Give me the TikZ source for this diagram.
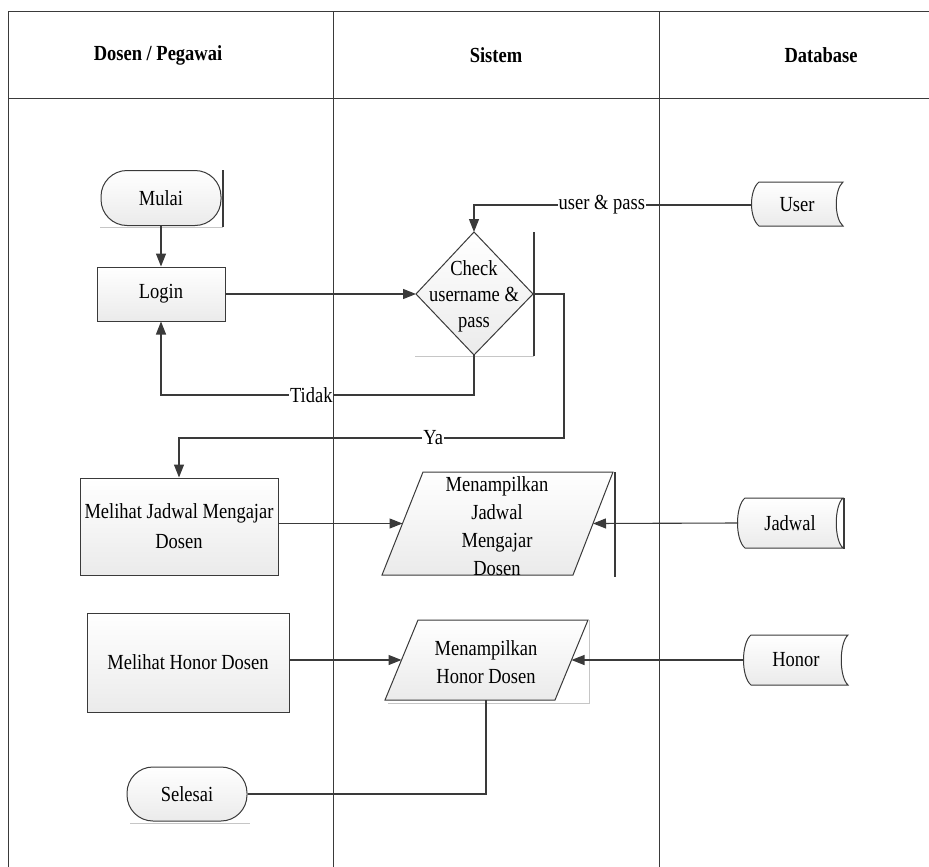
\documentclass[tikz,border=0pt]{standalone}
\usepackage{fontspec}
\setmainfont[FakeStretch=0.86]{Liberation Serif}
\usetikzlibrary{arrows.meta}
\definecolor{ln}{HTML}{3A3A3A}
\newcommand\mydbshape[4]{%
  \path[shapebox] ({#1+8},#3) -- (#2,#3)
    .. controls ({#2-9},{#3+8}) and ({#2-9},{#4-8}) .. (#2,#4)
    -- ({#1+8},#4)
    .. controls ({#1-2},{#4-8}) and ({#1-2},{#3+8}) .. ({#1+8},#3) -- cycle;}
\begin{document}
\begin{tikzpicture}[x=1pt,y=-1pt,
  font=\fontsize{21.5}{27}\selectfont,
  every node/.style={inner sep=0pt, text=black},
  fillg/.style={top color=white, bottom color=gray!16},
  box/.style={draw=ln, line width=1pt, fillg, align=center},
  proc/.style={box, rectangle},
  term/.style={box, rectangle, rounded corners=26pt},
  shapebox/.style={draw=ln, line width=1pt, fillg},
  lbl/.style={align=center},
  flow/.style={draw=ln, line width=1.1pt, -{Triangle[length=13pt,width=10pt]}},
  link/.style={draw=ln, line width=1.1pt},
  tag/.style={fill=white, inner sep=1pt},
  shadowline/.style={draw=ln, line width=1.4pt},
  lightshadow/.style={draw=gray!45, line width=1pt},
  lane/.style={draw=ln, line width=1pt},
  head/.style={font=\fontsize{21.5}{27}\selectfont\bfseries},
]
\useasboundingbox (0,0) rectangle (929,867);
\fill[white] (0,0) rectangle (929,867);

% swimlanes
\draw[lane] (8,867) -- (8,12) -- (929,12);
\draw[lane] (8,98) -- (929,98);
\draw[lane] (333,12) -- (333,867);
\draw[lane] (659,12) -- (659,867);
\node[head] (h1) at (158,55) {Dosen / Pegawai};
\node[head] (h2) at (496,55) {Sistem};
\node[head] (h3) at (821,55) {Database};

% shadows
\draw[lightshadow] (100,227) -- (223,227);
\draw[shadowline] (223,170) -- (223,227);
\draw[lightshadow] (415,356) -- (534,356);
\draw[shadowline] (534,232) -- (534,356);
\draw[shadowline] (615,472) -- (615,577);
\draw[lightshadow] (589,620) -- (589,703) -- (388,703);
\draw[lightshadow] (130,823) -- (250,823);

% left lane
\node[term, minimum width=120pt, minimum height=55pt] (mulai) at (161,198) {Mulai};
\node[proc, minimum width=128pt, minimum height=54pt] (login) at (161,294) {Login};
\node[proc, minimum width=198pt, minimum height=97pt] (mjadwal) at (179,526.5) {Melihat Jadwal Mengajar\\[3pt]Dosen};
\node[proc, minimum width=202pt, minimum height=99pt] (mhonor) at (188,662.5) {Melihat Honor Dosen};
\node[term, minimum width=120pt, minimum height=54pt] (selesai) at (187,794) {Selesai};

% decision
\coordinate (ct) at (474,232);
\coordinate (cl) at (416,294);
\coordinate (cr) at (533,294);
\coordinate (cb) at (474,355);
\path[shapebox] (ct) -- (cr) -- (cb) -- (cl) -- cycle;
\node[lbl, font=\fontsize{21.5}{26}\selectfont] (check) at (474,296) {Check\\username \&\\pass};

% display jadwal
\path[shapebox] (382,575) -- (423,472) -- (613,472) -- (573,575) -- cycle;
\coordinate (pjl) at (402.5,523.5);
\coordinate (pjr) at (593,523.5);
\node[lbl, font=\fontsize{21.5}{28}\selectfont] (pjadwal) at (497,526) {Menampilkan\\Jadwal\\Mengajar\\Dosen};

% display honor
\path[shapebox] (385,700) -- (418,620) -- (588,620) -- (555,700) -- cycle;
\coordinate (phl) at (401.5,660);
\coordinate (phr) at (571.5,660);
\coordinate (phb) at (486,700);
\node[lbl, font=\fontsize{21.5}{28}\selectfont] (phonor) at (486,662) {Menampilkan\\Honor Dosen};

% database stores
\mydbshape{751}{843}{182}{226}
\node (user) at (797,205) {User};
\coordinate (ul) at (752,205);
\mydbshape{737}{843}{498}{548}
\draw[shadowline] (844,498) -- (844,549);
\node (jadwal) at (790,523) {Jadwal};
\coordinate (jl) at (738,523);
\mydbshape{743}{848}{635}{685}
\node (honor) at (796,660) {Honor};
\coordinate (hl) at (744,660);

% connectors
\draw[flow] (mulai) -- (login);
\draw[flow] (login.east) -- (cl);
\draw[flow] (ul) -| node[tag, pos=0.27] {user \& pass} (ct);
\draw[flow] (cb) -- ++(0,40) -| node[tag, pos=0.26] {Tidak} (login.south);
\draw[flow] (cr) -- ++(31,0) -- ++(0,144) -| node[tag, pos=0.17] {Ya} (mjadwal.north);
\draw[flow] (mjadwal.east |- pjl) -- (pjl);
\draw[flow] (jl) -- (pjr);
\draw[flow] (mhonor.east |- phl) -- (phl);
\draw[flow] (hl) -- (phr);
\draw[link] (phb) |- (selesai.east);
\end{tikzpicture}
\end{document}
